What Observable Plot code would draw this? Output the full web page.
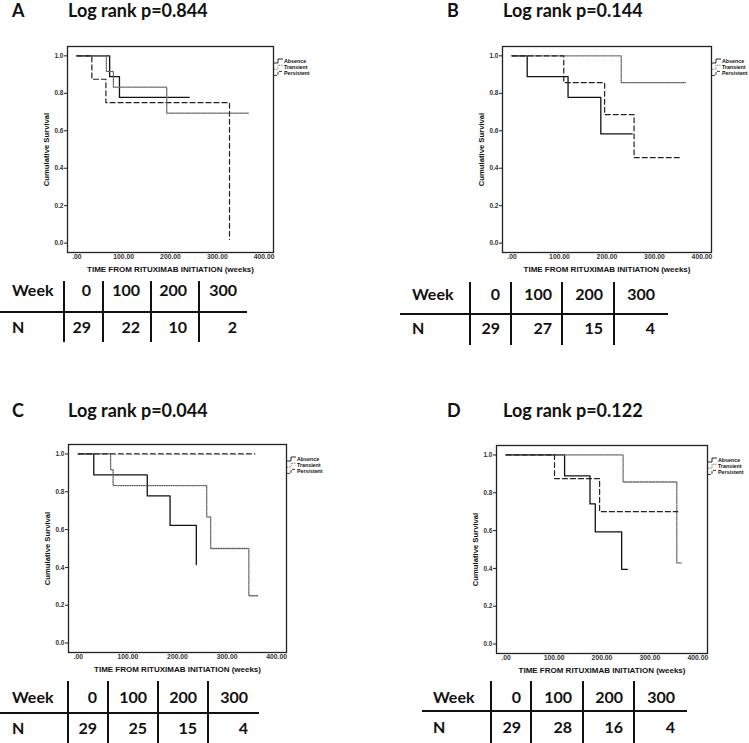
<!DOCTYPE html>
<html><head><meta charset="utf-8">
<script src="https://cdn.jsdelivr.net/npm/d3@7"></script>
<script src="https://cdn.jsdelivr.net/npm/@observablehq/plot@0.6"></script>
<style>
body{margin:0;background:#fff;}
#root{position:relative;width:749px;height:743px;overflow:hidden;background:#fff;}
#root svg{position:absolute;}
</style></head><body><div id="root"></div>
<script>
// ---------- data ----------
const panelIds = ["A", "B", "C", "D"];
const logRankP = ["0.844", "0.144", "0.044", "0.122"];
const groups = ["Absence", "Transient", "Persistent"];
const xTicks = [0, 100, 200, 300, 400];
const yTicks = [0, 0.2, 0.4, 0.6, 0.8, 1.0];
const weekTicks = [0, 100, 200, 300];
const atRiskA = [29, 22, 10, 2];
const atRiskB = [29, 27, 15, 4];
const atRiskC = [29, 25, 15, 4];
const atRiskD = [29, 28, 16, 4];

// Kaplan-Meier steps: time (weeks) and survival after that time
const timeA_Absence = [0, 70, 91, 240];
const survA_Absence = [1, 0.889, 0.778, 0.778];
const timeA_Transient = [0, 63, 78, 192, 366];
const survA_Transient = [1, 0.917, 0.833, 0.694, 0.694];
const timeA_Persistent = [0, 32, 62, 326];
const survA_Persistent = [1, 0.875, 0.75, 0.02];

const timeB_Absence = [0, 32, 118, 187, 253];
const survB_Absence = [1, 0.889, 0.778, 0.583, 0.583];
const timeB_Transient = [0, 230, 365];
const survB_Transient = [1, 0.857, 0.857];
const timeB_Persistent = [0, 109, 195, 257, 358];
const survB_Persistent = [1, 0.857, 0.686, 0.457, 0.457];

const timeC_Absence = [0, 31, 139, 185, 238];
const survC_Absence = [1, 0.889, 0.778, 0.622, 0.415];
const timeC_Transient = [0, 65, 70, 259, 267, 344, 362];
const survC_Transient = [1, 0.917, 0.833, 0.667, 0.5, 0.25, 0.25];
const timeC_Persistent = [0, 356];
const survC_Persistent = [1, 1];

const timeD_Absence = [0, 122, 175, 186, 241, 253];
const survD_Absence = [1, 0.889, 0.741, 0.593, 0.395, 0.395];
const timeD_Transient = [0, 244, 356, 365];
const survD_Transient = [1, 0.857, 0.429, 0.429];
const timeD_Persistent = [0, 101, 195, 358];
const survD_Persistent = [1, 0.875, 0.7, 0.7];

// ---------- assemble ----------
const curves = {
  A: {Absence: [timeA_Absence, survA_Absence], Transient: [timeA_Transient, survA_Transient], Persistent: [timeA_Persistent, survA_Persistent]},
  B: {Absence: [timeB_Absence, survB_Absence], Transient: [timeB_Transient, survB_Transient], Persistent: [timeB_Persistent, survB_Persistent]},
  C: {Absence: [timeC_Absence, survC_Absence], Transient: [timeC_Transient, survC_Transient], Persistent: [timeC_Persistent, survC_Persistent]},
  D: {Absence: [timeD_Absence, survD_Absence], Transient: [timeD_Transient, survD_Transient], Persistent: [timeD_Persistent, survD_Persistent]}
};
const atRisk = {A: atRiskA, B: atRiskB, C: atRiskC, D: atRiskD};

// layout (page pixels)
const frames = {
  A: {l: 67, t: 46, r: 273, b: 252},
  B: {l: 502, t: 46, r: 711, b: 252},
  C: {l: 68, t: 444, r: 286, b: 652},
  D: {l: 496, t: 445, r: 707, b: 653}
};
const titles = {
  A: {lx: 12, tx: 68, y: 17},
  B: {lx: 447, tx: 503, y: 17},
  C: {lx: 12, tx: 68, y: 417},
  D: {lx: 447, tx: 503, y: 417}
};
const tables = {
  A: {wx: 12, hb: 296, nb: 333, hy: 312, hx0: 0, hx1: 247, vx: [64, 103, 151, 199], vy0: 281, vy1: 342, cols: [91, 140, 187, 237]},
  B: {wx: 412, hb: 300, nb: 334, hy: 314, hx0: 400, hx1: 668, vx: [470, 511, 562, 614], vy0: 282, vy1: 345, cols: [500, 552, 603, 655]},
  C: {wx: 12, hb: 703, nb: 734, hy: 713, hx0: 0, hx1: 259, vx: [68, 108, 158, 208], vy0: 681, vy1: 743, cols: [97, 147, 197, 248]},
  D: {wx: 433, hb: 703, nb: 733, hy: 711, hx0: 422, hx1: 687, vx: [491, 531, 583, 634], vy0: 681, vy1: 743, cols: [521, 572, 623, 675]}
};
const styles = {
  Absence: {stroke: "#111", dash: null, w: 1.3},
  Transient: {stroke: "#666", dash: "1.1,1.2", w: 1.3},
  Persistent: {stroke: "#222", dash: "5,3", w: 1.2}
};

const root = document.getElementById("root");
const ML = 44, MR = 4, MT = 4, MB = 26;
const smallFont = "'Liberation Sans', Arial, sans-serif";

panelIds.forEach((id) => {
  const f = frames[id];
  const fw = f.r - f.l, fh = f.b - f.t;
  const marks = [Plot.frame({stroke: "#222", strokeWidth: 1.3})];
  groups.forEach((g) => {
    const [ts, ss] = curves[id][g];
    const data = ts.map((t, i) => ({t, s: ss[i]}));
    marks.push(Plot.line(data, {x: "t", y: "s", curve: "step-after", stroke: styles[g].stroke,
      strokeDasharray: styles[g].dash, strokeWidth: styles[g].w}));
  });
  marks.push(Plot.axisY(yTicks, {tickSize: 3, tickPadding: 1, fontSize: 6.5, fontWeight: "bold",
    tickFormat: (d) => d.toFixed(1), label: null, stroke: "#222", fill: "#333"}));
  marks.push(Plot.axisX(xTicks, {tickSize: 0, tickPadding: 2, fontSize: 6.8, fontWeight: "bold",
    tickFormat: (d) => d === 0 ? ".00" : d.toFixed(2), label: null, fill: "#333"}));
  marks.push(Plot.text(["Cumulative Survival"], {frameAnchor: "left", dx: -21, rotate: -90,
    textAnchor: "middle", lineAnchor: "middle", fontWeight: "bold", fontSize: 7.7, fill: "#111"}));
  marks.push(Plot.text(["TIME FROM RITUXIMAB INITIATION (weeks)"], {frameAnchor: "bottom", dy: 17,
    textAnchor: "middle", lineAnchor: "middle", fontWeight: "bold", fontSize: 8, fill: "#111"}));
  const plot = Plot.plot({
    width: ML + fw + MR, height: MT + fh + MB,
    marginLeft: ML, marginRight: MR, marginTop: MT, marginBottom: MB,
    x: {domain: [-20, 420]}, y: {domain: [-0.05, 1.05]},
    style: {fontFamily: smallFont, color: "#222", background: "transparent", overflow: "visible"},
    marks
  });
  plot.style.left = (f.l - ML) + "px";
  plot.style.top = (f.t - MT) + "px";
  root.appendChild(plot);
});

// overlay: titles, legends, at-risk tables
const svg = d3.select(root).append("svg").attr("width", 749).attr("height", 743)
  .style("left", "0px").style("top", "0px").style("overflow", "visible");
const bigFont = "Lato, 'Open Sans', sans-serif";

panelIds.forEach((id, i) => {
  const T = titles[id];
  svg.append("text").attr("x", T.lx).attr("y", T.y).text(id)
    .attr("font-family", bigFont).attr("font-weight", "bold").attr("font-size", 18).attr("fill", "#111");
  svg.append("text").attr("x", T.tx).attr("y", T.y).text("Log rank p=" + logRankP[i])
    .attr("font-family", bigFont).attr("font-weight", "bold").attr("font-size", 18).attr("fill", "#111");

  // legend
  const f = frames[id];
  groups.forEach((g, j) => {
    const cy = f.t + 15 + j * 6.2;
    const s = styles[g];
    svg.append("path").attr("d", `M${f.r + 1},${cy + 2} H${f.r + 5} V${cy - 2} H${f.r + 10}`)
      .attr("fill", "none").attr("stroke", s.stroke).attr("stroke-width", 0.9)
      .attr("stroke-dasharray", s.dash ? (g === "Persistent" ? "3,1.5" : "1,0.8") : null);
    svg.append("text").attr("x", f.r + 11).attr("y", cy + 2).text(g)
      .attr("font-family", smallFont).attr("font-weight", "bold").attr("font-size", 5.3).attr("fill", "#111");
  });

  // table
  const tb = tables[id];
  const tg = svg.append("g").attr("font-family", bigFont).attr("font-weight", "bold")
    .attr("font-size", 16).attr("fill", "#111");
  tg.append("text").attr("x", tb.wx).attr("y", tb.hb).text("Week");
  tg.append("text").attr("x", tb.wx).attr("y", tb.nb).text("N");
  weekTicks.forEach((w, k) => {
    tg.append("text").attr("x", tb.cols[k]).attr("y", tb.hb).attr("text-anchor", "end").text(w);
    tg.append("text").attr("x", tb.cols[k]).attr("y", tb.nb).attr("text-anchor", "end").text(atRisk[id][k]);
  });
  svg.append("line").attr("x1", tb.hx0).attr("x2", tb.hx1).attr("y1", tb.hy).attr("y2", tb.hy)
    .attr("stroke", "#111").attr("stroke-width", 2);
  tb.vx.forEach((x) => {
    svg.append("line").attr("x1", x).attr("x2", x).attr("y1", tb.vy0).attr("y2", tb.vy1)
      .attr("stroke", "#111").attr("stroke-width", 2);
  });
});
</script></body></html>
